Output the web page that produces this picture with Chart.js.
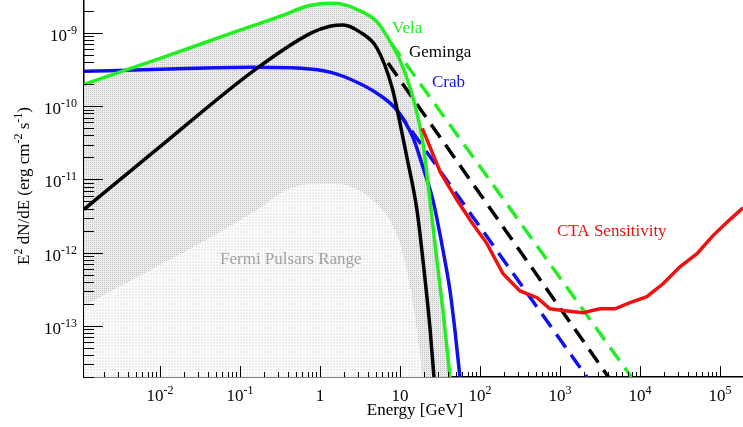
<!DOCTYPE html>
<html>
<head>
<meta charset="utf-8">
<script src="https://cdn.jsdelivr.net/npm/chart.js@4/dist/chart.umd.min.js"></script>
<style>
  body { margin: 0; background: #fff; }
  canvas { display: block; }
</style>
</head>
<body>
<canvas id="pulsarChart" width="743" height="427"></canvas>
<script>
// Energy [GeV] and E^2 dN/dE [erg cm^-2 s^-1]
const velaE    = [1.12e-3, 0.01, 0.1, 0.355, 0.55, 0.77, 1.3, 2.0, 2.9, 5.16, 7.72, 10, 13.3, 16.3, 19.4, 23.7, 29, 34.5, 42.2];
const velaFlux = [2.0e-10, 4.5e-10, 1.1e-9, 1.77e-9, 2.15e-9, 2.4e-9, 2.55e-9, 2.45e-9, 2.1e-9, 1.42e-9, 7.3e-10, 4.27e-10, 1.82e-10, 8.0e-11, 3.1e-11, 5.1e-12, 7.7e-13, 1.6e-13, 1.95e-14];
const velaTailE    = [7.72, 7940];
const velaTailFlux = [7.3e-10, 1.95e-14];

const gemingaE    = [1.12e-3, 0.01, 0.15, 0.77, 1.37, 1.94, 3.16, 5.16, 7.94, 10, 12.2, 16.3, 19.4, 23.7, 26.6];
const gemingaFlux = [3.9e-12, 2.8e-11, 3.1e-10, 1.0e-9, 1.25e-9, 1.29e-9, 1.03e-9, 6.2e-10, 1.82e-10, 5.85e-11, 2.0e-11, 3.8e-12, 7.7e-13, 9.3e-14, 1.95e-14];
const gemingaTailE    = [7.08, 4100];
const gemingaTailFlux = [3.9e-10, 1.95e-14];

const crabE    = [1.12e-3, 0.01, 0.137, 0.58, 1.37, 2.9, 5.16, 9.17, 14.5, 19.4, 25.9, 34.5, 42.2, 48.7, 56.2];
const crabFlux = [3.0e-10, 3.2e-10, 3.4e-10, 3.3e-10, 2.9e-10, 2.13e-10, 1.5e-10, 8.8e-11, 3.76e-11, 1.46e-11, 5.1e-12, 1.07e-12, 3.0e-13, 8.5e-14, 1.95e-14];
const crabTailE    = [9.17, 2200];
const crabTailFlux = [8.8e-11, 1.95e-14];

const ctaE    = [19, 32, 52, 79, 122, 194, 316, 516, 750, 1220, 1940, 3160, 4870, 7500, 12200, 19400, 31600, 51600, 81700, 133000, 194000];
const ctaFlux = [5.0e-11, 1.25e-11, 5.15e-12, 2.58e-12, 1.33e-12, 5.15e-13, 3.0e-13, 2.42e-13, 1.71e-13, 1.6e-13, 1.51e-13, 1.71e-13, 1.71e-13, 2.07e-13, 2.5e-13, 3.76e-13, 6.4e-13, 9.7e-13, 1.71e-12, 2.83e-12, 4.1e-12];

// lower edge of the Fermi pulsar band
const fermiLowE    = [1.12e-3, 0.178, 0.316, 0.562, 1.22, 2.58, 4.6, 7.5, 10, 12.2, 14.5, 16.7, 19.4];
const fermiLowFlux = [1.88e-13, 4.1e-12, 6.45e-12, 8.3e-12, 8.8e-12, 7.8e-12, 5.15e-12, 2.75e-12, 1.33e-12, 5.7e-13, 2.0e-13, 6.9e-14, 1.95e-14];

const xTickValues = [1e-2, 1e-1, 1, 10, 1e2, 1e3, 1e4, 1e5];
const xTickLabels = ['10^-2', '10^-1', '1', '10', '10^2', '10^3', '10^4', '10^5'];
const yTickValues = [1e-9, 1e-10, 1e-11, 1e-12, 1e-13];
const yTickLabels = ['10^-9', '10^-10', '10^-11', '10^-12', '10^-13'];

const SERIF = "'Liberation Serif', 'Times New Roman', serif";

function pts(xs, ys) {
  return xs.map((v, i) => ({ x: v, y: ys[i] }));
}

function curve(xs, ys, color, opts) {
  return Object.assign({
    data: pts(xs, ys),
    borderColor: color,
    borderWidth: 3.5,
    pointRadius: 0,
    fill: false,
    cubicInterpolationMode: 'monotone'
  }, opts || {});
}

// small dotted tiles, like the ROOT fill styles
function makePattern(size, bg, dot, cells) {
  const c = document.createElement('canvas');
  c.width = size; c.height = size;
  const g = c.getContext('2d');
  g.fillStyle = bg;
  g.fillRect(0, 0, size, size);
  g.fillStyle = dot;
  cells.forEach(p => g.fillRect(p[0], p[1], 1, 1));
  return g.createPattern(c, 'repeat');
}
const darkFill = makePattern(2, '#ececec', '#c4c4c4', [[0, 0]]);
const lightFill = makePattern(3, '#ffffff', '#ececec', [[0, 0], [1, 0], [0, 1], [1, 1]]);

// draw "10^-2" style text; align: 'center' or 'right'
function supText(ctx, label, x, y, size, align) {
  const [base, exp] = label.split('^');
  const supSize = Math.round(size * 0.7);
  ctx.font = size + 'px ' + SERIF;
  const wb = ctx.measureText(base).width;
  ctx.font = supSize + 'px ' + SERIF;
  const we = exp ? ctx.measureText(exp).width : 0;
  const w = wb + we;
  let x0 = align === 'right' ? x - w : x - w / 2;
  ctx.textAlign = 'left';
  ctx.textBaseline = 'alphabetic';
  ctx.font = size + 'px ' + SERIF;
  ctx.fillText(base, x0, y);
  if (exp) {
    ctx.font = supSize + 'px ' + SERIF;
    ctx.fillText(exp, x0 + wb, y - 7);
  }
}

const axisDeco = {
  id: 'axisDeco',
  afterDraw(chart) {
    const { ctx, chartArea: a, scales: { x, y } } = chart;
    ctx.save();
    ctx.strokeStyle = '#000';
    ctx.lineWidth = 1;
    ctx.beginPath();
    for (let e = -3; e <= 5; e++) {
      for (let m = 1; m <= 9; m++) {
        const v = m * Math.pow(10, e);
        if (v < x.min || v > x.max) continue;
        const px = Math.round(x.getPixelForValue(v)) + 0.5;
        ctx.moveTo(px, a.bottom);
        ctx.lineTo(px, a.bottom - (m === 1 ? 11 : 5));
      }
    }
    for (let e = -14; e <= -9; e++) {
      for (let m = 1; m <= 9; m++) {
        const v = m * Math.pow(10, e);
        if (v < y.min || v > y.max) continue;
        const py = Math.round(y.getPixelForValue(v)) + 0.5;
        ctx.moveTo(a.left, py);
        ctx.lineTo(a.left + (m === 1 ? 19 : 10), py);
      }
    }
    ctx.stroke();

    ctx.fillStyle = '#000';
    xTickValues.forEach((v, i) => {
      supText(ctx, xTickLabels[i], x.getPixelForValue(v), a.bottom + 24, 17, 'center');
    });
    yTickValues.forEach((v, i) => {
      supText(ctx, yTickLabels[i], a.left - 7, y.getPixelForValue(v) + 8, 17, 'right');
    });

    // axis titles
    ctx.font = '17px ' + SERIF;
    ctx.textAlign = 'center';
    ctx.fillText('Energy [GeV]', 415, 415);

    const parts = [['E', 0], ['2', 1], [' dN/dE (erg cm', 0], ['-2', 1], [' s', 0], ['-1', 1], [')', 0]];
    let total = 0;
    parts.forEach(p => {
      ctx.font = (p[1] ? 12 : 17) + 'px ' + SERIF;
      total += ctx.measureText(p[0]).width;
    });
    ctx.translate(29, 186);
    ctx.rotate(-Math.PI / 2);
    ctx.textAlign = 'left';
    let cx = -total / 2;
    parts.forEach(p => {
      ctx.font = (p[1] ? 12 : 17) + 'px ' + SERIF;
      ctx.fillText(p[0], cx, p[1] ? -7 : 0);
      cx += ctx.measureText(p[0]).width;
    });
    ctx.restore();

    // curve labels
    ctx.save();
    ctx.font = '17px ' + SERIF;
    ctx.textAlign = 'left';
    ctx.textBaseline = 'alphabetic';
    ctx.fillStyle = GREEN; ctx.fillText('Vela', 392, 33);
    ctx.fillStyle = BLACK; ctx.fillText('Geminga', 409, 57);
    ctx.fillStyle = BLUE;  ctx.fillText('Crab', 432, 87);
    ctx.fillStyle = RED;   ctx.fillText('CTA Sensitivity', 557, 236);
    ctx.fillStyle = '#a0a0a0'; ctx.fillText('Fermi Pulsars Range', 220, 264);
    ctx.restore();
  }
};

const GREEN = '#22ee22', BLUE = '#1010ee', RED = '#ee1111', BLACK = '#000000';
const dash = [16, 9];

new Chart(document.getElementById('pulsarChart'), {
  type: 'line',
  data: {
    datasets: [
      curve(velaE, velaFlux, 'rgba(0,0,0,0)', { fill: 'start', backgroundColor: darkFill, borderWidth: 0, order: 10 }),
      curve(fermiLowE, fermiLowFlux, 'rgba(0,0,0,0)', { fill: 'start', backgroundColor: lightFill, borderWidth: 0, order: 9 }),
      curve(crabE, crabFlux, BLUE, { order: 6 }),
      curve(crabTailE, crabTailFlux, BLUE, { order: 6, borderDash: dash, cubicInterpolationMode: 'default', tension: 0 }),
      curve(gemingaE, gemingaFlux, BLACK, { order: 5 }),
      curve(gemingaTailE, gemingaTailFlux, BLACK, { order: 5, borderDash: dash, cubicInterpolationMode: 'default', tension: 0 }),
      curve(velaE, velaFlux, GREEN, { order: 4 }),
      curve(velaTailE, velaTailFlux, GREEN, { order: 4, borderDash: dash, cubicInterpolationMode: 'default', tension: 0 }),
      curve(ctaE, ctaFlux, RED, { order: 3, cubicInterpolationMode: 'default', tension: 0 })
    ]
  },
  options: {
    responsive: false,
    animation: false,
    layout: { padding: { left: 84, right: 0, top: 0, bottom: 50 } },
    plugins: { legend: { display: false }, tooltip: { enabled: false } },
    scales: {
      x: {
        type: 'logarithmic',
        min: 1.12e-3,
        max: 1.94e5,
        ticks: { display: false },
        grid: { display: false, drawTicks: false },
        border: { color: '#000', width: 1.5 }
      },
      y: {
        type: 'logarithmic',
        min: 2.0e-14,
        max: 2.83e-9,
        ticks: { display: false },
        grid: { display: false, drawTicks: false },
        border: { color: '#000', width: 1.5 }
      }
    }
  },
  plugins: [axisDeco]
});
</script>
</body>
</html>
